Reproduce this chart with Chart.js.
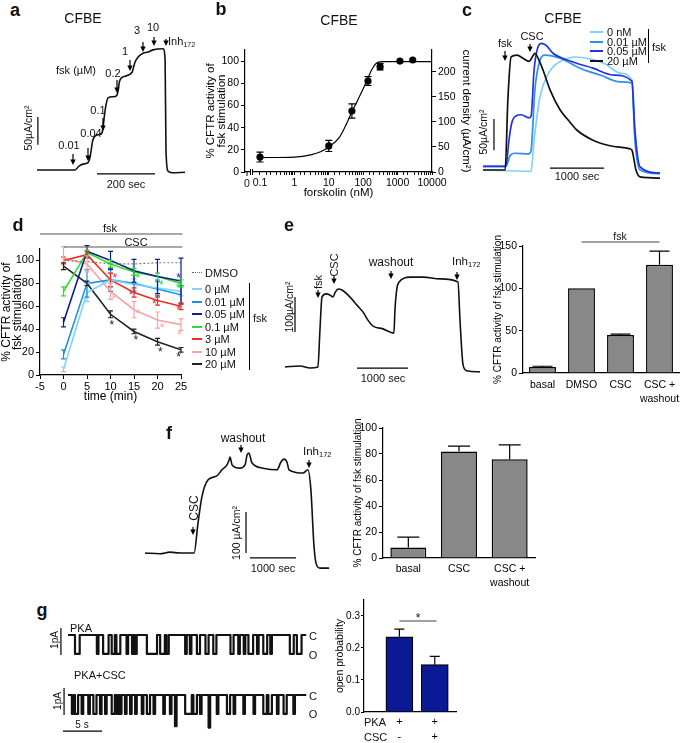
<!DOCTYPE html>
<html>
<head>
<meta charset="utf-8">
<title>CFTR forskolin / CSC figure</title>
<script src="https://cdn.jsdelivr.net/npm/chart.js@4.4.1/dist/chart.umd.min.js"></script>
<style>
  body { margin: 0; background: #fff; }
  #fig { position: relative; width: 685px; height: 743px; overflow: hidden;
         font-family: 'Liberation Sans', Arial, Helvetica, sans-serif; color: #111; }
  #fig canvas { position: absolute; }
  .t { position: absolute; white-space: nowrap; line-height: 1; }
  .t sub { font-size: 65%; vertical-align: -0.3em; line-height: 0; }
  .ln { position: absolute; }
</style>
</head>
<body>
<div id="fig"></div>
<script>
// ---------- data ----------

// a: stepwise forskolin, CFBE short-circuit current (time s, µA/cm2)
const aTime = [0,131,145,162,176,183,193,210,224,228,235,245,262,276,286,304,328,338,348,366,383,400,435,442,445,452,466,511];
const aCurr = [0,0,7,11,13,23,54,63,66,77,107,129,131,134,161,168,175,193,202,209,211,215,217,197,36,-2,-5,-4];

// b: dose response (forskolin nM, % of fsk stimulation)
const bConc = [0.1, 10, 47, 138, 310, 1170, 2750];
const bAct  = [13.5, 23.5, 55, 82, 95, 100, 101];
const bSem  = [4.5, 5, 6.5, 4, 3, 0, 0];
const bFitConc = [0.1, 1, 3, 6, 10, 20, 30, 45, 65, 100, 135, 175, 240, 350, 1000, 10000];
const bFitAct  = [13, 13.5, 15.5, 18.5, 22.5, 31, 41, 53, 63, 75, 84, 92, 98, 99.5, 99.5, 99.5];

// c: CSC added on top of different fsk doses (time s, µA/cm2)
const c0T   = [0,890,945,1055,1165,1295,1480,1700,1980,2255,2535,2755,2810,2905,3275];
const c0I   = [0,-2,48,118,148,166,177,182,179,171,156,145,64,3,-5];
const c001T = [0,425,500,590,850,890,960,1055,1145,1425,1795,1980,2165,2535,2755,2810,2905,3275];
const c001I = [6,6,23,27,26,32,129,177,185,180,164,158,153,142,140,48,0,-6];
const c005T = [0,425,480,535,610,705,850,890,945,1000,1075,1165,1295,1665,2035,2405,2755,2810,2905,3275];
const c005I = [6,6,48,77,87,89,84,87,161,193,204,201,188,174,164,153,143,64,5,-5];
const c20T  = [0,410,460,520,630,740,850,925,960,1035,1110,1240,1425,1610,1740,2035,2350,2720,2755,2830,2905,3275];
const c20I  = [0,0,113,182,185,180,175,184,188,177,161,129,97,77,64,48,39,34,32,0,-11,-13];

// d: time course (min, % CFTR activity)
const dTime = [0, 5, 10, 15, 20, 25];
const dDMSO = [100, 99, 97, 97, 98, 98];
const d0    = [5, 72, 83, 79, 76, 73];
const d001  = [18, 80, 83, 80, 75, 70];
const d005  = [46, 108, 100, 91, 86, 82];
const d01   = [73, 107, 97, 90, 86, 80];
const d3    = [100, 105, 83, 72, 65, 60];
const d10   = [102, 97, 73, 57, 48, 44];
const d20   = [95, 80, 53, 38, 29, 22];
const d0Sem   = [2, 8, 6, 5, 5, 4];
const d001Sem = [4, 12, 10, 7, 7, 8];
const d005Sem = [4, 5, 8, 10, 15, 20];
const d01Sem  = [4, 2, 3, 3, 3, 3];
const d3Sem   = [3, 3, 6, 4, 4, 3];
const d10Sem  = [10, 7, 7, 7, 7, 5];
const d20Sem  = [3, 2, 3, 2, 3, 2];

// e: CSC then washout (time s, µA/cm2) and summary bars
const eT = [0,295,490,645,685,725,805,880,940,980,1040,1115,1275,1410,1530,1625,1725,1920,2135,2155,2195,2255,2350,2450,2705,3040,3390,3430,3490,3565,3820];
const eI = [0,3,-3,0,106,200,209,206,200,212,223,220,200,177,157,134,117,109,97,163,226,246,255,257,257,252,243,134,6,-11,-14];
const eCats = ['basal', 'DMSO', 'CSC', ['CSC +', 'washout']];
const eVals = [7, 100, 45, 128];
const eSem  = [1, 0, 1, 16];

// f: CSC alone (time s, µA/cm2) and summary bars
const fT = [0,325,545,760,1065,1150,1235,1365,1560,1670,1780,1825,1845,1890,2060,2170,2215,2255,2320,2560,2865,2950,3015,3080,3125,3430,3535,3600,3665,3710,3800,3995];
const fI = [0,-2,2,0,0,73,137,178,188,203,215,227,234,215,207,215,239,244,220,207,203,222,229,222,203,195,203,154,20,-24,-37,-37];
const fCats = ['basal', 'CSC', ['CSC +', 'washout']];
const fVals = [8, 82, 76];
const fSem  = [8, 4, 11];

// g: single channel openings [start s, end s, (amplitude pA)] and open probability
const gOpenLevel = -0.7;
const gEnd = 30.5;
const pkaOpen = [[0.9,1.5],[3.7,3.9],[4.5,5.2],[5.6,6.0],[6.2,6.7],[7.5,7.7],[8.2,8.4],[8.6,8.8],[10.1,11.4],[11.8,12.4],[12.6,12.9],[15.0,15.2],[15.6,15.8],[16.5,16.9],[17.6,18.0],[18.6,19.0],[20.8,21.2],[21.8,22.0],[22.5,22.7],[23.1,23.7],[24.2,24.4],[25.0,25.5],[25.9,26.1],[28.4,28.9],[29.3,29.9]];
const cscOpen = [[0.5,0.7],[0.9,1.3],[1.75,1.95],[2.6,2.8],[3.25,3.65],[4.1,4.3],[4.75,4.95],[5.6,6.0],[6.25,6.45],[6.65,6.85],[7.3,7.5],[7.95,8.15],[8.6,8.8],[9.45,9.65],[10.1,10.5],[10.95,11.15],[12.2,12.4],[13.05,13.25],[13.7,13.9,-1.15],[15.0,15.85],[16.05,16.5],[16.9,17.1],[18.0,18.2,-1.2],[19.05,19.25],[20.35,20.75],[21.2,21.4],[22.45,22.65],[23.75,23.95],[25.0,25.45],[25.65,26.1],[26.75,26.95],[27.6,28.0],[28.85,29.05]];
const gPKA = ['+', '+'];
const gCSC = ['-', '+'];
const gPo  = [0.235, 0.148];
const gSem = [0.024, 0.026];

// ---------- drawing ----------
const F = "'Liberation Sans', Arial, Helvetica, sans-serif";
Chart.defaults.font.family = F;
Chart.defaults.color = '#000';
Chart.defaults.animation = false;
Chart.defaults.events = [];
Chart.defaults.plugins.legend.display = false;
Chart.defaults.plugins.tooltip.enabled = false;

const fig = document.getElementById('fig');
const xy = (t, v) => t.map((x, i) => ({ x, y: v[i] }));

// error bars from dataset.errs
Chart.register({
  id: 'errs',
  afterDatasetsDraw(chart) {
    const c = chart.ctx, ys = chart.scales.y;
    chart.data.datasets.forEach((ds, i) => {
      if (!ds.errs) return;
      c.save();
      c.strokeStyle = ds.errColor || ds.borderColor;
      c.lineWidth = 1.2;
      chart.getDatasetMeta(i).data.forEach((el, j) => {
        const e = ds.errs[j];
        if (!e) return;
        const v = typeof ds.data[j] === 'object' ? ds.data[j].y : ds.data[j];
        const top = ys.getPixelForValue(v + e);
        const bot = ds.upOnly ? el.y : ys.getPixelForValue(v - e);
        c.beginPath();
        c.moveTo(el.x, top); c.lineTo(el.x, bot);
        c.moveTo(el.x - ds.cap, top); c.lineTo(el.x + ds.cap, top);
        if (!ds.upOnly) { c.moveTo(el.x - ds.cap, bot); c.lineTo(el.x + ds.cap, bot); }
        c.stroke();
      });
      c.restore();
    });
  }
});

// arrows, scale bars, spans and stars
function deco(box, items) {
  return {
    id: 'deco',
    afterDatasetsDraw(chart) {
      const c = chart.ctx, xs = chart.scales.x, ys = chart.scales.y;
      const [L, T] = box;
      c.save();
      c.lineWidth = 1.2;
      for (const it of items) {
        c.strokeStyle = c.fillStyle = it.color || '#000';
        if (it.arrow) {
          const [X, Y, len] = it.arrow, x = X - L, y = Y - T;
          c.beginPath(); c.moveTo(x, y - len); c.lineTo(x, y - 4); c.stroke();
          c.beginPath(); c.moveTo(x - 2.7, y - 5.5); c.lineTo(x + 2.7, y - 5.5); c.lineTo(x, y); c.closePath(); c.fill();
        } else if (it.vbar) {
          const [t, v0, v1] = it.vbar, x = xs.getPixelForValue(t);
          c.beginPath(); c.moveTo(x, ys.getPixelForValue(v0)); c.lineTo(x, ys.getPixelForValue(v1)); c.stroke();
        } else if (it.hbar) {
          const [v, t0, t1] = it.hbar, y = ys.getPixelForValue(v);
          c.beginPath(); c.moveTo(xs.getPixelForValue(t0), y); c.lineTo(xs.getPixelForValue(t1), y); c.stroke();
        } else if (it.span) {
          const [t0, t1, Y] = it.span;
          c.beginPath(); c.moveTo(xs.getPixelForValue(t0), Y - T); c.lineTo(xs.getPixelForValue(t1), Y - T); c.stroke();
        } else if (it.star) {
          const [t, v] = it.star;
          c.font = `12px ${F}`; c.textAlign = 'center'; c.textBaseline = 'middle';
          c.fillText('*', xs.getPixelForValue(t), ys.getPixelForValue(v) + 3);
        }
      }
      c.restore();
    }
  };
}

function canvasAt(L, T, W, H) {
  const cv = document.createElement('canvas');
  cv.width = W; cv.height = H;
  cv.style.left = L + 'px'; cv.style.top = T + 'px';
  cv.style.width = W + 'px'; cv.style.height = H + 'px';
  fig.appendChild(cv);
  return cv;
}

function trace(box, xr, yr, sets, items) {
  const [L, T, W, H] = box;
  return new Chart(canvasAt(L, T, W, H), {
    type: 'line',
    data: {
      datasets: sets.map(s => ({
        data: s.d, borderColor: s.c, borderWidth: s.w || 1.5, pointRadius: 0,
        cubicInterpolationMode: s.step ? 'default' : 'monotone', tension: 0, borderJoinStyle: 'round'
      }))
    },
    options: {
      responsive: false, devicePixelRatio: 1, layout: { padding: 0 },
      scales: {
        x: { type: 'linear', display: false, min: xr[0], max: xr[1] },
        y: { type: 'linear', display: false, min: yr[0], max: yr[1] }
      }
    },
    plugins: [deco(box, items)]
  });
}

function ax(size, extra) {
  const o = {
    grid: { drawOnChartArea: false, tickLength: 4, color: '#000', lineWidth: 1 },
    border: { color: '#000', width: 1.2 },
    ticks: { padding: 2, font: { size }, color: '#000', maxRotation: 0, autoSkip: false }
  };
  for (const k in extra) {
    const v = extra[k];
    if (v && typeof v === 'object' && !Array.isArray(v) && o[k]) Object.assign(o[k], v);
    else o[k] = v;
  }
  return o;
}
const ttl = (text, size, padding, lineHeight) =>
  ({ display: true, text, color: '#000', font: { size, lineHeight: lineHeight || 1.2 }, padding });

function txt(html, x, y, size, o = {}) {
  const d = document.createElement('div');
  d.className = 't';
  d.innerHTML = html;
  d.style.left = x + 'px';
  d.style.top = y + 'px';
  d.style.fontSize = size + 'px';
  if (o.bold) d.style.fontWeight = 'bold';
  const tx = o.left ? '0' : '-50%';
  d.style.transform = `translate(${tx},-50%)` + (o.rot ? ` rotate(${o.rot}deg)` : '');
  fig.appendChild(d);
}
function hline(x0, x1, y, color, w, style) {
  const d = document.createElement('div');
  d.className = 'ln';
  d.style.left = x0 + 'px'; d.style.top = (y - w / 2) + 'px';
  d.style.width = (x1 - x0) + 'px';
  d.style.borderTop = `${w}px ${style || 'solid'} ${color}`;
  fig.appendChild(d);
}
function vline(x, y0, y1) {
  const d = document.createElement('div');
  d.className = 'ln';
  d.style.left = x + 'px'; d.style.top = y0 + 'px';
  d.style.height = (y1 - y0) + 'px';
  d.style.borderLeft = '1.2px solid #000';
  fig.appendChild(d);
}

// ---- panel a ----
trace([20, 22, 172, 170], [-58.7, 534.8], [-39.4, 264.9],
  [{ d: xy(aTime, aCurr), c: '#111', w: 1.6 }],
  [{ arrow: [73, 165, 11] }, { arrow: [88, 161, 13] }, { arrow: [103, 131, 13] }, { arrow: [117, 93, 13] },
   { arrow: [130, 71, 11] }, { arrow: [143, 52, 10] }, { arrow: [154, 46, 9] }, { arrow: [166, 46, 7] },
   { vbar: [3, 45, 95] }, { hbar: [-7, 207, 407] }]);
txt('a', 15, 10, 18, { bold: true });
txt('CFBE', 83, 18, 14);
txt('fsk (µM)', 76, 70, 11);
txt('0.01', 69, 145, 11); txt('0.04', 91, 133, 11); txt('0.1', 98, 110, 11); txt('0.2', 113, 73, 11);
txt('1', 125, 51, 11); txt('3', 137, 30, 11); txt('10', 153, 27, 11);
txt('Inh<sub>172</sub>', 168, 41, 11, { left: true });
txt('50µA/cm²', 28, 128, 10.5, { rot: -90 });
txt('200 sec', 126, 184, 11);

// ---- panel b ----
new Chart(canvasAt(195, 38, 282, 167), {
  type: 'line',
  data: {
    datasets: [
      { data: xy(bFitConc, bFitAct), borderColor: '#000', borderWidth: 1.2, pointRadius: 0, cubicInterpolationMode: 'monotone' },
      { data: xy(bConc, bAct), showLine: false, pointRadius: 3.6, pointBackgroundColor: '#000', pointBorderWidth: 0,
        borderColor: '#000', errs: bSem, cap: 3.5 }
    ]
  },
  options: {
    responsive: false, devicePixelRatio: 1, layout: { padding: { top: 12 } },
    scales: {
      x: ax(10.5, {
        type: 'logarithmic', min: 0.0367, max: 10000, grid: { tickLength: 3 },
        afterFit: s => { s.height = 33; },
        afterBuildTicks: s => { s.ticks = s.ticks.filter(t => t.value >= 0.0999); },
        ticks: { callback: v => { const l = Math.log10(v); return Math.abs(l - Math.round(l)) < 1e-6 ? String(v) : ''; } },
        title: ttl('forskolin (nM)', 11.5, { top: 0, bottom: 5 })
      }),
      y: ax(10.5, {
        min: 0, max: 110, afterFit: s => { s.width = 50; },
        ticks: { stepSize: 20, includeBounds: false },
        title: ttl(['% CFTR activity of', 'fsk stimulation'], 11.5, { top: 10.5, bottom: 0 }, 0.95)
      }),
      y2: ax(10.5, {
        position: 'right', min: 0, max: 243.4, afterFit: s => { s.width = 45; },
        ticks: { stepSize: 50, includeBounds: false },
        title: ttl('current density (µA/cm²)', 11.5, { top: 3.5, bottom: 0 })
      })
    }
  },
  plugins: [{
    id: 'brk',
    afterDraw(chart) {
      const c = chart.ctx, y = chart.chartArea.bottom;
      c.save();
      c.fillStyle = '#fff'; c.fillRect(250 - 195, y - 2, 3, 4);
      c.strokeStyle = '#000'; c.lineWidth = 1;
      c.beginPath();
      c.moveTo(247 - 195, y); c.lineTo(247 - 195, y + 4);
      c.moveTo(250.5 - 195, y - 3); c.lineTo(250.5 - 195, y + 3);
      c.moveTo(252.5 - 195, y - 3); c.lineTo(252.5 - 195, y + 3);
      c.stroke();
      c.restore();
    }
  }]
});
txt('b', 221, 9, 18, { bold: true });
txt('CFBE', 339, 20, 14);
txt('0', 247, 183, 10.5);

// ---- panel c ----
const cCol = ['#7fd1f6', '#2e90e8', '#2233dd', '#111'];
trace([475, 25, 190, 165], [-148, 3367], [-32.2, 233.5],
  [{ d: xy(c20T, c20I), c: cCol[3], w: 1.7 },
   { d: xy(c005T, c005I), c: cCol[2], w: 1.7 },
   { d: xy(c001T, c001I), c: cCol[1], w: 1.7 },
   { d: xy(c0T, c0I), c: cCol[0], w: 1.7 }],
  [{ arrow: [505, 61, 10] }, { arrow: [530, 52, 8] },
   { vbar: [203, 32, 82] }, { hbar: [3, 1240, 2240] }]);
txt('c', 467, 10, 18, { bold: true });
txt('CFBE', 563, 18, 14);
txt('fsk', 505, 43, 11);
txt('CSC', 532, 36, 11);
txt('50µA/cm²', 483, 132, 10.5, { rot: -90 });
txt('1000 sec', 577, 176, 11);
['0 nM', '0.01 µM', '0.05 µM', '20 µM'].forEach((s, i) => {
  const y = [32, 42, 51, 61][i];
  hline(590, 603, y, cCol[i], 2);
  txt(s, 607, y, 11, { left: true });
});
vline(648, 29, 63);
txt('fsk', 652, 47, 11, { left: true });

// ---- panel d ----
const dCol = { dmso: '#777', c0: '#7fd3f7', c001: '#1e8fe8', c005: '#0d1f8f', c01: '#2fdc2f', c3: '#ee2b1f', c10: '#f5a3a3', c20: '#222' };
const dLine = (v, col, sem) => ({ data: xy(dTime, v), borderColor: col, borderWidth: 1.6, pointRadius: 0, tension: 0, errs: sem, cap: 2.5 });
new Chart(canvasAt(0, 220, 192, 184), {
  type: 'line',
  data: {
    datasets: [
      { data: xy(dTime, dDMSO), borderColor: dCol.dmso, borderWidth: 1.2, borderDash: [2, 2], pointRadius: 0 },
      dLine(d0, dCol.c0, d0Sem), dLine(d001, dCol.c001, d001Sem), dLine(d005, dCol.c005, d005Sem),
      dLine(d01, dCol.c01, d01Sem), dLine(d3, dCol.c3, d3Sem), dLine(d10, dCol.c10, d10Sem), dLine(d20, dCol.c20, d20Sem)
    ]
  },
  options: {
    responsive: false, devicePixelRatio: 1, layout: { padding: { top: 29, right: 11 } },
    scales: {
      x: ax(11, {
        type: 'linear', min: -5, max: 25, afterFit: s => { s.height = 29; },
        ticks: { stepSize: 5, padding: 1 },
        title: ttl('time (min)', 12, { top: 0, bottom: 0.5 })
      }),
      y: ax(11, {
        min: 0, max: 110, afterFit: s => { s.width = 40; },
        ticks: { stepSize: 20, includeBounds: false, padding: 2 },
        title: ttl(['% CFTR activity of', 'fsk stimulation'], 12, { top: 0.5, bottom: 0 }, 0.95)
      })
    }
  },
  plugins: [deco([0, 220], [
    { span: [-5, 25.3, 234], color: '#555' }, { span: [0.1, 25.3, 247], color: '#555' },
    { star: [10.3, 46], color: dCol.c20 }, { star: [15.4, 33], color: dCol.c20 }, { star: [20.6, 22], color: dCol.c20 }, { star: [24.5, 18], color: dCol.c20 },
    { star: [10.7, 68], color: dCol.c10 }, { star: [15.8, 55], color: dCol.c10 }, { star: [21, 43], color: dCol.c10 }, { star: [24.7, 37], color: dCol.c10 },
    { star: [10.9, 87], color: dCol.c3 }, { star: [14.4, 72], color: dCol.c3 }, { star: [19.3, 64], color: dCol.c3 }, { star: [24.5, 59], color: dCol.c3 },
    { star: [15.8, 87], color: dCol.c01 }, { star: [20.8, 81], color: dCol.c01 }, { star: [24.4, 78], color: dCol.c01 },
    { star: [24.5, 87], color: dCol.c005 }
  ])]
});
txt('d', 18, 225, 18, { bold: true });
txt('fsk', 110, 228, 11);
txt('CSC', 136, 242, 11);
hline(192, 202, 273, '#666', 1.5, 'dotted');
txt('DMSO', 205, 273, 11, { left: true });
[['0 µM', dCol.c0], ['0.01 µM', dCol.c001], ['0.05 µM', dCol.c005], ['0.1 µM', dCol.c01],
 ['3 µM', dCol.c3], ['10 µM', dCol.c10], ['20 µM', dCol.c20]].forEach(([s, col], i) => {
  const y = 289 + i * 12.5;
  hline(192, 202, y, col, 2);
  txt(s, 205, y, 11, { left: true });
});
vline(249, 283, 370);
txt('fsk', 253, 318, 11, { left: true });

// ---- panel e ----
trace([280, 235, 205, 150], [-98, 3920], [-51.5, 377.5],
  [{ d: xy(eT, eI), c: '#111', w: 1.6 }],
  [{ arrow: [318, 298, 8] }, { arrow: [334, 284, 8] }, { arrow: [391, 279, 8] }, { arrow: [457, 280, 8] },
   { vbar: [196, 100, 200] }, { hbar: [-3, 1411, 2411] }]);
txt('e', 289, 225, 18, { bold: true });
txt('fsk', 318, 282, 11, { rot: -90 });
txt('CSC', 334, 265, 11, { rot: -90 });
txt('washout', 391, 262, 12);
txt('Inh<sub>172</sub>', 452, 262, 11.5, { left: true });
txt('100µA/cm²', 289, 307, 10.5, { rot: -90 });
txt('1000 sec', 383, 378, 11);

new Chart(canvasAt(478, 232, 207, 173), {
  type: 'bar',
  data: {
    labels: eCats,
    datasets: [{ data: eVals, backgroundColor: '#888', borderColor: '#000', borderWidth: 1.5,
      barPercentage: 0.69, categoryPercentage: 1, errs: eSem, errColor: '#000', cap: 10, upOnly: true }]
  },
  options: {
    responsive: false, devicePixelRatio: 1, layout: { padding: { top: 14, right: 6 } },
    scales: {
      x: ax(10.5, { grid: { display: false, drawTicks: false }, afterFit: s => { s.height = 32; },
        ticks: { padding: 5, font: { size: 10.5, lineHeight: 1.35 } } }),
      y: ax(10.5, { min: 0, max: 150, afterFit: s => { s.width = 45; },
        ticks: { stepSize: 50, includeBounds: false },
        title: ttl('% CFTR activity of fsk stimulation', 10, { top: 14, bottom: 0 }) })
    }
  },
  plugins: [deco([478, 232], [{ span: [1, 3, 242], color: '#444' }])]
});
txt('fsk', 620, 236, 10.5);

// ---- panel f ----
trace([140, 425, 195, 155], [-108.5, 4123], [-65.9, 312.3],
  [{ d: xy(fT, fI), c: '#111', w: 1.6 }],
  [{ arrow: [193, 535, 8] }, { arrow: [241, 453, 8] }, { arrow: [309, 468, 8] },
   { vbar: [2192, 0, 100] }, { hbar: [-12, 2279, 3279] }]);
txt('f', 169, 433, 18, { bold: true });
txt('CSC', 194, 508, 12, { rot: -90 });
txt('washout', 243, 438, 12);
txt('Inh<sub>172</sub>', 303, 452, 11.5, { left: true });
txt('100 µA/cm²', 236, 533, 10.5, { rot: -90 });
txt('1000 sec', 273, 568, 11);

new Chart(canvasAt(345, 405, 200, 185), {
  type: 'bar',
  data: {
    labels: fCats,
    datasets: [{ data: fVals, backgroundColor: '#888', borderColor: '#000', borderWidth: 1.5,
      barPercentage: 0.71, categoryPercentage: 1, errs: fSem, errColor: '#000', cap: 11, upOnly: true }]
  },
  options: {
    responsive: false, devicePixelRatio: 1, layout: { padding: { top: 23, right: 10 } },
    scales: {
      x: ax(10.5, { grid: { display: false, drawTicks: false }, afterFit: s => { s.height = 32; },
        ticks: { padding: 4, font: { size: 10.5, lineHeight: 1.35 } } }),
      y: ax(10.5, { min: 0, max: 100, afterFit: s => { s.width = 38; },
        ticks: { stepSize: 20 },
        title: ttl('% CFTR activity of fsk stimulation', 10, { top: 7, bottom: 0 }) })
    }
  }
});

// ---- panel g ----
function channel(events) {
  const pts = [{ x: 0, y: 0 }];
  events.forEach(([a, b, amp]) => {
    const o = amp === undefined ? gOpenLevel : amp;
    pts.push({ x: a, y: 0 }, { x: a, y: o }, { x: b, y: o }, { x: b, y: 0 });
  });
  pts.push({ x: gEnd, y: 0 });
  return pts;
}
trace([45, 620, 275, 45], [-2.94, 32.26], [-1.107, 0.553],
  [{ d: channel(pkaOpen), c: '#111', w: 2.2, step: true }],
  [{ vbar: [-0.9, 0.26, -0.74] }]);
trace([45, 680, 275, 60], [-2.94, 32.26], [-1.66, 0.553],
  [{ d: channel(cscOpen), c: '#111', w: 2.2, step: true }],
  [{ vbar: [-0.5, 0.26, -0.74] }, { hbar: [-1.33, -0.64, 4.36] }]);
txt('g', 42, 610, 18, { bold: true });
txt('PKA', 70, 628, 11, { left: true });
txt('PKA+CSC', 74, 675, 11, { left: true });
txt('1pA', 55, 640, 10, { rot: -90 });
txt('1pA', 58, 701, 10, { rot: -90 });
txt('C', 313, 636, 11); txt('O', 313, 655, 11);
txt('C', 313, 696, 11); txt('O', 313, 714, 11);
txt('5 s', 82, 725, 10);

new Chart(canvasAt(328, 592, 138, 151), {
  type: 'bar',
  data: {
    datasets: [{ data: gPo.map((v, i) => ({ x: i + 1, y: v })), backgroundColor: '#0b1a94', borderColor: '#000',
      borderWidth: 1.2, barThickness: 27, errs: gSem, errColor: '#000', cap: 5, upOnly: true }]
  },
  options: {
    responsive: false, devicePixelRatio: 1, layout: { padding: { top: 8, right: 10 } },
    scales: {
      x: ax(11, { type: 'linear', offset: false, min: 0, max: 2.6, grid: { display: false, drawTicks: false, offset: false },
        afterFit: s => { s.height = 31; },
        afterBuildTicks: s => { s.ticks = [{ value: 1 }, { value: 2 }]; },
        ticks: { padding: 3, font: { size: 11, lineHeight: 1.35 }, callback: v => [gPKA[v - 1], gCSC[v - 1]] } }),
      y: ax(10, { min: 0, max: 0.35, afterFit: s => { s.width = 36; },
        grid: { tickLength: 3 },
        ticks: { stepSize: 0.1, includeBounds: false, padding: 1, callback: v => v.toFixed(1) },
        title: ttl('open probability', 10.5, { top: 6, bottom: 0 }) })
    }
  },
  plugins: [deco([328, 592], [{ span: [1, 2.05, 621], color: '#444' }])]
});
txt('*', 418, 618, 12);
txt('PKA', 364, 722, 11, { left: true });
txt('CSC', 364, 737, 11, { left: true });
</script>
</body>
</html>
